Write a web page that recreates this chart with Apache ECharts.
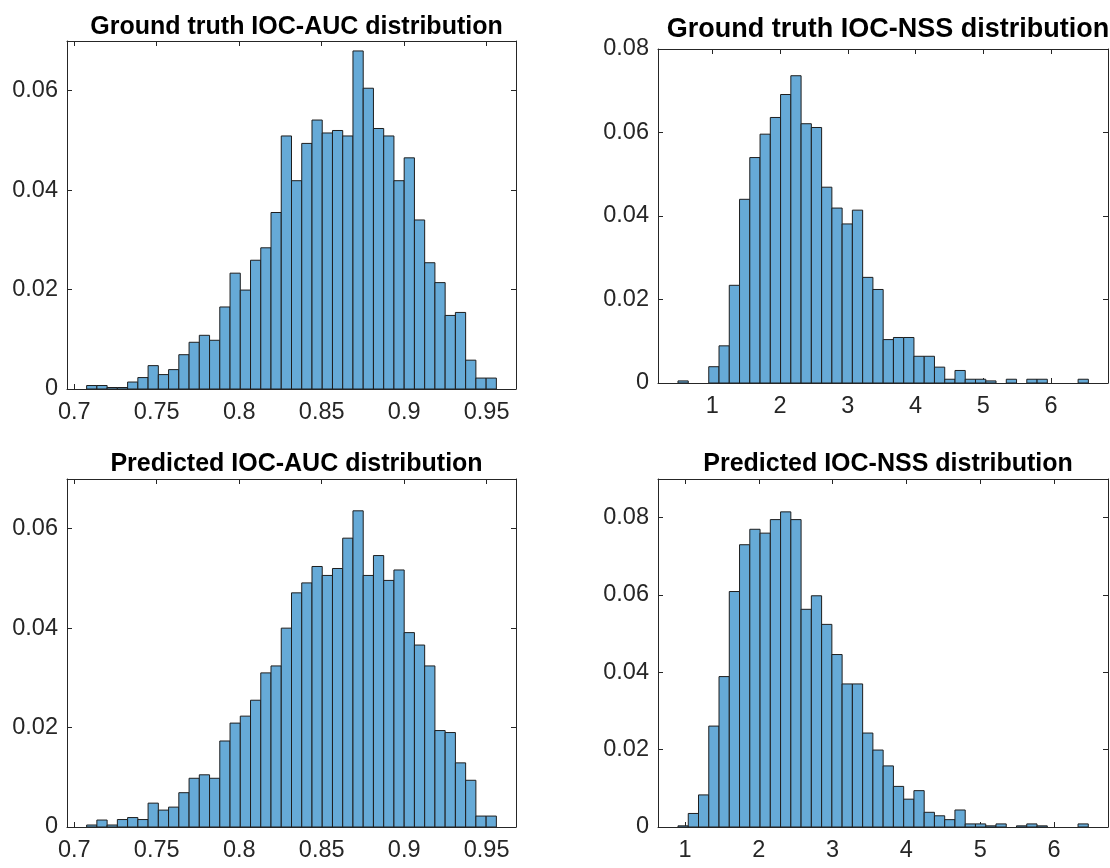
<!DOCTYPE html>
<html>
<head>
<meta charset="utf-8">
<script src="https://cdn.jsdelivr.net/npm/echarts@6/dist/echarts.min.js"></script>
<style>
html,body{margin:0;padding:0;background:#fff;}
#c{width:1110px;height:868px;}
</style>
</head>
<body>
<div id="c"></div>
<script>
// ---------- DATA ----------
const titles = [
  'Ground truth IOC-AUC distribution',
  'Ground truth IOC-NSS distribution',
  'Predicted IOC-AUC distribution',
  'Predicted IOC-NSS distribution'
];
// bin layout (start edge and width of each histogram's 40 bins)
const aucBinStart = 0.7075, aucBinWidth = 0.00621;
const nssTrueBinStart = 0.492, nssTrueBinWidth = 0.1515;
const nssPredBinStart = 0.905, nssPredBinWidth = 0.139;

// normalized bin heights (probability)
const aucTrueValues = [0.0007,0.0007,0.0003,0.0003,0.0014,0.0023,0.0047,0.0029,0.0039,0.0069,
  0.0094,0.0108,0.0098,0.0165,0.0233,0.0199,0.0259,0.0284,0.0355,0.0509,
  0.0419,0.0494,0.0541,0.0515,0.0520,0.0509,0.0680,0.0605,0.0524,0.0509,
  0.0419,0.0465,0.0340,0.0254,0.0214,0.0148,0.0154,0.0058,0.0022,0.0022];
const nssTrueValues = [0.0005,0,0,0.0039,0.0089,0.0234,0.0440,0.0540,0.0596,0.0636,
  0.0691,0.0736,0.0621,0.0612,0.0469,0.0419,0.0381,0.0414,0.0253,0.0224,
  0.0104,0.0109,0.0109,0.0064,0.0064,0.0038,0.0009,0.0030,0.0009,0.0009,
  0.0005,0,0.0009,0,0.0009,0.0009,0,0,0,0.0009];
const aucPredValues = [0.0004,0.0014,0.0004,0.0015,0.0019,0.0015,0.0048,0.0034,0.0040,0.0069,
  0.0098,0.0105,0.0098,0.0173,0.0209,0.0223,0.0255,0.0310,0.0324,0.0400,
  0.0471,0.0491,0.0524,0.0506,0.0520,0.0581,0.0636,0.0506,0.0546,0.0496,
  0.0517,0.0391,0.0366,0.0324,0.0194,0.0190,0.0129,0.0094,0.0022,0.0022];
const nssPredValues = [0.0003,0.0035,0.0083,0.0261,0.0389,0.0609,0.0730,0.0770,0.0760,0.0795,
  0.0815,0.0795,0.0563,0.0598,0.0524,0.0446,0.0370,0.0370,0.0243,0.0199,
  0.0158,0.0105,0.0072,0.0094,0.0038,0.0029,0.0019,0.0044,0.0008,0.0008,
  0.0003,0.0008,0,0.0003,0.0008,0.0003,0,0,0,0.0008];

// axis ranges & tick labels
const aucXRange = [0.6956, 0.9678];
const nssTrueXRange = [0.197, 6.842];
const nssPredXRange = [0.634, 6.732];
const aucXTicks = [0.7, 0.75, 0.8, 0.85, 0.9, 0.95];
const nssXTicks = [1, 2, 3, 4, 5, 6];
const aucYMax = 0.07, nssTrueYMax = 0.08, nssPredYMax = 0.09;
const aucYTicks = [0, 0.02, 0.04, 0.06];
const nssYTicks = [0, 0.02, 0.04, 0.06, 0.08];

// ---------- LAYOUT ----------
const FONT = '"Liberation Sans", Arial, Helvetica, sans-serif';
const AX = '#262626';
const TICK_FS = 23.5;
const panels = [
  {title: titles[0], vals: aucTrueValues, start: aucBinStart, w: aucBinWidth, xr: aucXRange, xt: aucXTicks, ymax: aucYMax, yt: aucYTicks,
   grid: {left: 67, top: 41, width: 449, height: 348}, titleTop: 10, titleSize: 25},
  {title: titles[1], vals: nssTrueValues, start: nssTrueBinStart, w: nssTrueBinWidth, xr: nssTrueXRange, xt: nssXTicks, ymax: nssTrueYMax, yt: nssYTicks,
   grid: {left: 658, top: 49, width: 450, height: 334}, titleTop: 11, titleSize: 27},
  {title: titles[2], vals: aucPredValues, start: aucBinStart, w: aucBinWidth, xr: aucXRange, xt: aucXTicks, ymax: aucYMax, yt: aucYTicks,
   grid: {left: 67, top: 479, width: 449, height: 348}, titleTop: 447, titleSize: 25},
  {title: titles[3], vals: nssPredValues, start: nssPredBinStart, w: nssPredBinWidth, xr: nssPredXRange, xt: nssXTicks, ymax: nssPredYMax, yt: nssYTicks,
   grid: {left: 658, top: 479, width: 450, height: 348}, titleTop: 447, titleSize: 25}
];

function fmt(v){ return String(+(+v).toFixed(4)); }

const option = {
  animation: false,
  backgroundColor: '#fff',
  title: [], grid: [], xAxis: [], yAxis: [], series: []
};

panels.forEach((p, i) => {
  option.title.push({
    text: p.title,
    left: p.grid.left + p.grid.width / 2,
    top: p.titleTop,
    textAlign: 'center',
    textStyle: {fontFamily: FONT, fontWeight: 'bold', fontSize: p.titleSize, color: '#000'}
  });
  option.grid.push(Object.assign({containLabel: false}, p.grid));
  const lineStyle = {color: AX, width: 1};
  option.xAxis.push({
    type: 'value', gridIndex: i, position: 'bottom', min: p.xr[0], max: p.xr[1],
    axisLine: {show: true, onZero: false, lineStyle},
    axisTick: {show: true, inside: true, length: 5, lineStyle, customValues: p.xt},
    axisLabel: {show: true, customValues: p.xt, formatter: fmt, margin: 12,
      fontFamily: FONT, fontSize: TICK_FS, color: AX},
    splitLine: {show: false}
  });
  option.xAxis.push({
    type: 'value', gridIndex: i, position: 'top', min: p.xr[0], max: p.xr[1],
    axisLine: {show: true, onZero: false, lineStyle},
    axisTick: {show: true, inside: true, length: 5, lineStyle, customValues: p.xt},
    axisLabel: {show: false, customValues: p.xt},
    splitLine: {show: false}
  });
  option.yAxis.push({
    type: 'value', gridIndex: i, position: 'left', min: 0, max: p.ymax,
    axisLine: {show: true, onZero: false, lineStyle},
    axisTick: {show: true, inside: true, length: 5, lineStyle, customValues: p.yt},
    axisLabel: {show: true, customValues: p.yt, formatter: fmt, margin: 9,
      fontFamily: FONT, fontSize: TICK_FS, color: AX},
    splitLine: {show: false}
  });
  option.yAxis.push({
    type: 'value', gridIndex: i, position: 'right', min: 0, max: p.ymax,
    axisLine: {show: true, onZero: false, lineStyle},
    axisTick: {show: true, inside: true, length: 5, lineStyle, customValues: p.yt},
    axisLabel: {show: false, customValues: p.yt},
    splitLine: {show: false}
  });
  const data = p.vals.map((v, k) => [p.start + k * p.w, p.start + (k + 1) * p.w, v]);
  option.series.push({
    type: 'custom',
    xAxisIndex: i * 2, yAxisIndex: i * 2,
    clip: true,
    encode: {x: [0, 1], y: 2},
    data: data,
    renderItem: function (params, api) {
      const s = api.value(0), e = api.value(1), v = api.value(2);
      if (!(v > 0)) return null;
      const p0 = api.coord([s, 0]);
      const p1 = api.coord([e, v]);
      return {
        type: 'rect',
        shape: {x: p0[0], y: p1[1], width: p1[0] - p0[0], height: p0[1] - p1[1]},
        style: {fill: '#66AAD7', stroke: '#1e1e1e', lineWidth: 1}
      };
    }
  });
});

const chart = echarts.init(document.getElementById('c'), null, {renderer: 'canvas'});
chart.setOption(option);
</script>
</body>
</html>
